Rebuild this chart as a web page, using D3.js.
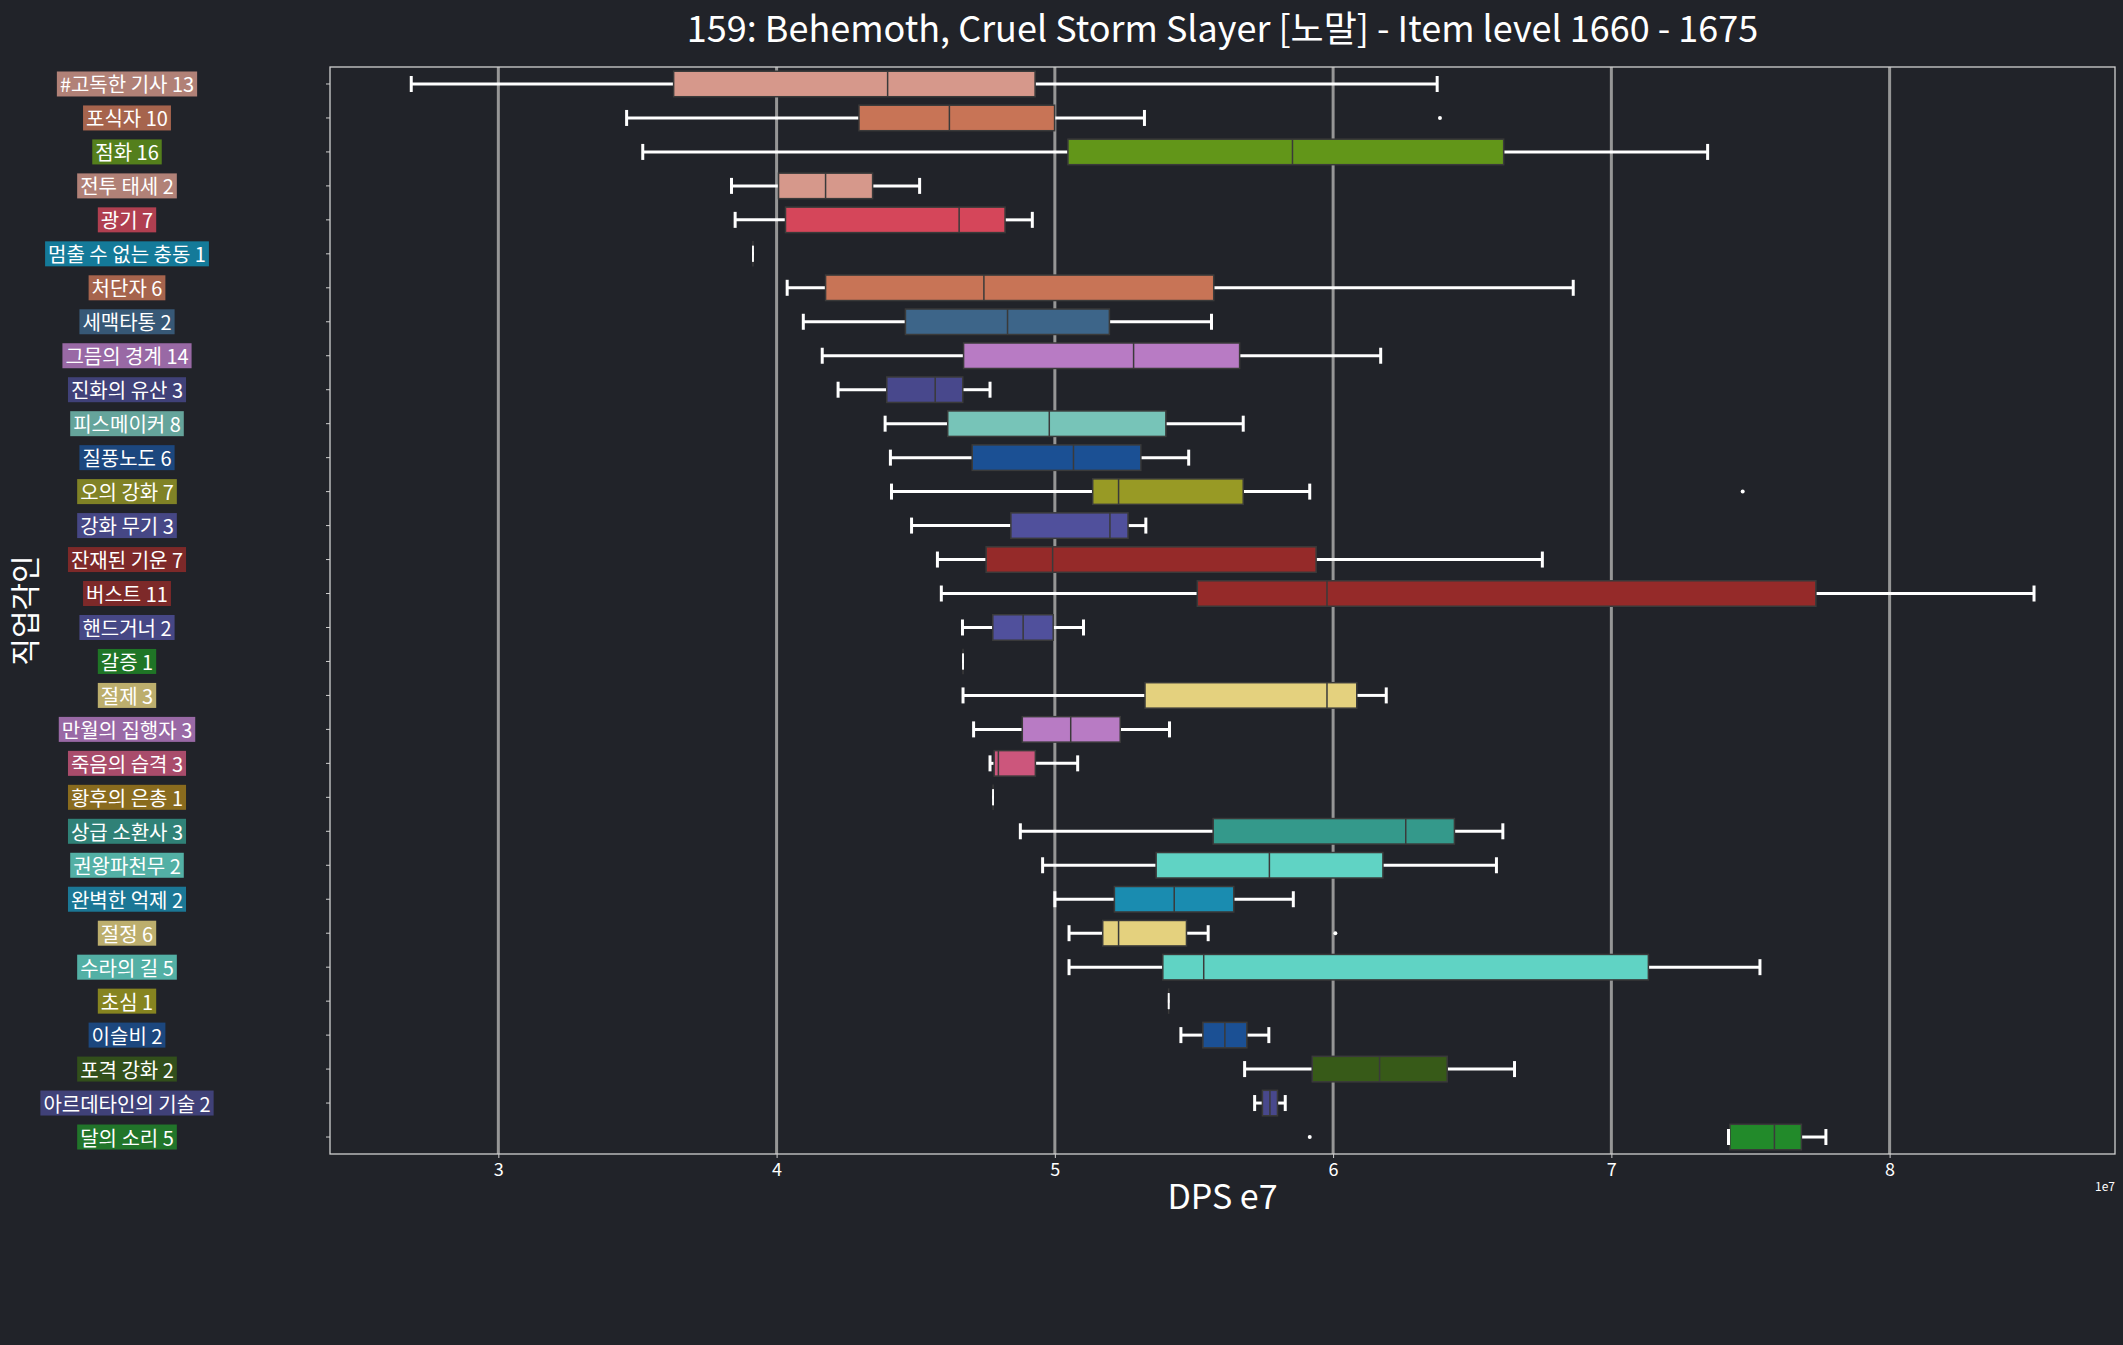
<!DOCTYPE html>
<html><head>
<meta http-equiv="content-type" content="text/html; charset=UTF-8">
<script src="https://d3js.org/d3.v7.min.js"></script>
<title>DPS boxplot</title>
<style>
body{ margin: 0; background: #212329; }
text{ font-family: "Noto Sans CJK KR", "Noto Sans", sans-serif; fill: #ffffff; }
</style>
</head>
<body>
<script>
// job engravings + sample counts, top to bottom
const jobs = ["#고독한 기사", "포식자", "점화", "전투 태세", "광기", "멈출 수 없는 충동", "처단자", "세맥타통",
  "그믐의 경계", "진화의 유산", "피스메이커", "질풍노도", "오의 강화", "강화 무기", "잔재된 기운", "버스트",
  "핸드거너", "갈증", "절제", "만월의 집행자", "죽음의 습격", "황후의 은총", "상급 소환사", "권왕파천무",
  "완벽한 억제", "절정", "수라의 길", "초심", "이슬비", "포격 강화", "아르데타인의 기술", "달의 소리"];
const counts = [13, 10, 16, 2, 7, 1, 6, 2, 14, 3, 8, 6, 7, 3, 7, 11, 2, 1, 3, 3, 3, 1, 3, 2, 2, 6, 5, 1, 2, 2, 2, 5];
const colors = ["#d6988b", "#c87456", "#629619", "#d6988b", "#d5465a", "#1190b5", "#c87456", "#3d6589",
  "#b87bc4", "#48488c", "#77c4b8", "#1b5094", "#989a25", "#50509c", "#952a29", "#952a29",
  "#50509c", "#1f8a26", "#e4d17e", "#b87bc4", "#cc567c", "#a47d1c", "#34998b", "#60d3c4",
  "#1a8cb0", "#e4d17e", "#60d3c4", "#a09c1e", "#1b5094", "#375a18", "#48488c", "#228a2a"];

// DPS in units of 1e7
const whiskerLo = [2.687, 3.461, 3.519, 3.838, 3.851, 3.915, 4.038, 4.096, 4.164, 4.221, 4.390, 4.409, 4.413, 4.485, 4.578, 4.592,
  4.668, 4.670, 4.670, 4.708, 4.767, 4.778, 4.876, 4.956, 5.000, 5.051, 5.051, 5.409, 5.453, 5.682, 5.718, 7.421];
const q1 = [3.630, 4.296, 5.047, 4.007, 4.032, 3.915, 4.176, 4.463, 4.672, 4.396, 4.615, 4.703, 5.136, 4.842, 4.753, 5.512,
  4.777, 4.670, 5.324, 4.883, 4.782, 4.778, 5.569, 5.364, 5.214, 5.172, 5.388, 5.409, 5.532, 5.925, 5.746, 7.426];
const median = [4.399, 4.621, 5.854, 4.176, 4.656, 3.915, 4.745, 4.830, 5.283, 4.570, 4.980, 5.067, 5.229, 5.198, 4.992, 5.978,
  4.886, 4.670, 5.978, 5.057, 4.797, 4.778, 6.261, 5.771, 5.429, 5.229, 5.535, 5.409, 5.611, 6.167, 5.773, 7.586];
const q3 = [4.929, 4.999, 6.613, 4.345, 4.821, 3.915, 5.571, 5.196, 5.664, 4.669, 5.399, 5.309, 5.677, 5.263, 5.939, 7.735,
  4.994, 4.670, 6.085, 5.235, 4.930, 4.778, 6.436, 6.179, 5.643, 5.473, 7.133, 5.409, 5.690, 6.410, 5.800, 7.683];
const whiskerHi = [6.374, 5.322, 7.346, 4.514, 4.919, 3.915, 6.863, 5.563, 6.171, 4.767, 5.677, 5.481, 5.916, 5.327, 6.752, 8.519,
  5.103, 4.670, 6.191, 5.412, 5.082, 4.778, 6.610, 6.587, 5.857, 5.551, 7.534, 5.409, 5.769, 6.652, 5.828, 7.771];
const outlierJob = ["포식자", "오의 강화", "절정", "달의 소리"];
const outlierDps = [6.384, 7.472, 6.008, 5.916];

const xTicks = [3, 4, 5, 6, 7, 8];

const margin = {top: 67, right: 8, bottom: 191, left: 330};
const width = 2123 - margin.left - margin.right;
const height = 1345 - margin.top - margin.bottom;

const Ech_x = d3.scaleLinear().domain([2.395, 8.81]).range([0, width]);
const Ech_y = d3.scaleBand().domain(jobs).range([0, height]).padding(0);
const bw = Ech_y.bandwidth();
const boxH = bw * 0.75;
const capH = 16;
const mid = d => Ech_y(d) + bw / 2;

const svg = d3.select("body").append("svg")
  .attr("width", 2123)
  .attr("height", 1345);

const groupe = svg.append("g")
  .attr("transform", "translate(" + margin.left + "," + margin.top + ")");

// vertical grid
groupe.selectAll(".grid")
  .data(xTicks)
  .enter().append("line")
  .attr("x1", d => Ech_x(d)).attr("x2", d => Ech_x(d))
  .attr("y1", 0).attr("y2", height)
  .attr("stroke", "#969696")
  .attr("stroke-width", 3);

// axes
const axeX = groupe.append("g")
  .attr("transform", "translate(0," + height + ")")
  .call(d3.axisBottom(Ech_x).tickValues(xTicks).tickFormat(d3.format("d")).tickSize(4).tickPadding(5));
axeX.select(".domain").remove();
axeX.selectAll("line").attr("stroke", "#d0d0d0");
axeX.selectAll("text").attr("font-size", 18).attr("fill", "#ffffff").style("font-family", "Noto Sans CJK KR");

const axeY = groupe.append("g")
  .call(d3.axisLeft(Ech_y).tickSize(4).tickFormat(""));
axeY.select(".domain").remove();
axeY.selectAll("line").attr("stroke", "#d0d0d0");

// frame
groupe.append("rect")
  .attr("width", width).attr("height", height)
  .attr("fill", "none")
  .attr("stroke", "#d0d0d0")
  .attr("stroke-width", 1.3);

const rows = jobs.map((j, i) => ({job: j, i: i}));

const boites = groupe.selectAll(".boite")
  .data(rows)
  .enter().append("g")
  .attr("class", "boite");

// box + median
boites.append("rect")
  .attr("x", d => Ech_x(q1[d.i]))
  .attr("width", d => Ech_x(q3[d.i]) - Ech_x(q1[d.i]))
  .attr("y", d => mid(d.job) - boxH / 2)
  .attr("height", boxH)
  .attr("fill", d => colors[d.i])
  .attr("stroke", "#3a3a3a")
  .attr("stroke-width", 1.5);
boites.append("line")
  .attr("x1", d => Ech_x(median[d.i])).attr("x2", d => Ech_x(median[d.i]))
  .attr("y1", d => mid(d.job) - boxH / 2).attr("y2", d => mid(d.job) + boxH / 2)
  .attr("stroke", "#3a3a3a").attr("stroke-width", 1.5);

// whiskers and caps
boites.append("line")
  .attr("x1", d => Ech_x(whiskerLo[d.i])).attr("x2", d => Ech_x(q1[d.i]) - 0.75)
  .attr("y1", d => mid(d.job)).attr("y2", d => mid(d.job))
  .attr("stroke", "#ffffff").attr("stroke-width", 3);
boites.append("line")
  .attr("x1", d => Ech_x(q3[d.i]) + 0.75).attr("x2", d => Ech_x(whiskerHi[d.i]))
  .attr("y1", d => mid(d.job)).attr("y2", d => mid(d.job))
  .attr("stroke", "#ffffff").attr("stroke-width", 3);
boites.append("line")
  .attr("x1", d => Ech_x(whiskerLo[d.i])).attr("x2", d => Ech_x(whiskerLo[d.i]))
  .attr("y1", d => mid(d.job) - capH / 2).attr("y2", d => mid(d.job) + capH / 2)
  .attr("stroke", "#ffffff").attr("stroke-width", d => counts[d.i] == 1 ? 1.6 : 3);
boites.append("line")
  .attr("x1", d => Ech_x(whiskerHi[d.i])).attr("x2", d => Ech_x(whiskerHi[d.i]))
  .attr("y1", d => mid(d.job) - capH / 2).attr("y2", d => mid(d.job) + capH / 2)
  .attr("stroke", "#ffffff").attr("stroke-width", d => counts[d.i] == 1 ? 1.6 : 3);

// outliers
groupe.selectAll(".flier")
  .data(outlierJob)
  .enter().append("circle")
  .attr("cx", (d, k) => Ech_x(outlierDps[k]))
  .attr("cy", d => mid(d))
  .attr("r", 2)
  .attr("fill", "#ffffff");

// coloured tick labels
const legendes = groupe.selectAll(".legende")
  .data(rows)
  .enter().append("g")
  .attr("class", "legende")
  .attr("transform", d => "translate(-203," + mid(d.job) + ")");
legendes.append("rect");
legendes.append("text")
  .attr("text-anchor", "middle")
  .attr("dominant-baseline", "central")
  .attr("font-size", 20)
  .text(d => d.job + " " + counts[d.i]);
legendes.each(function(d){
  const g = d3.select(this);
  const w = g.select("text").node().getComputedTextLength();
  g.select("rect")
    .attr("x", -w / 2 - 3).attr("width", w + 6)
    .attr("y", -12.5).attr("height", 25)
    .attr("fill", colors[d.i])
    .attr("fill-opacity", 0.8);
});

// titles
svg.append("text")
  .attr("x", margin.left + width / 2).attr("y", 42)
  .attr("text-anchor", "middle")
  .attr("font-size", 36)
  .text("159: Behemoth, Cruel Storm Slayer [노말] - Item level 1660 - 1675");

svg.append("text")
  .attr("x", margin.left + width / 2).attr("y", 1209)
  .attr("text-anchor", "middle")
  .attr("font-size", 34)
  .text("DPS e7");

svg.append("text")
  .attr("x", margin.left + width).attr("y", 1191)
  .attr("text-anchor", "end")
  .attr("font-size", 12)
  .text("1e7");

svg.append("text")
  .attr("transform", "translate(23," + (margin.top + height / 2) + ") rotate(-90)")
  .attr("text-anchor", "middle")
  .attr("dominant-baseline", "central")
  .attr("font-size", 30)
  .text("직업각인");
</script>
</body>
</html>
